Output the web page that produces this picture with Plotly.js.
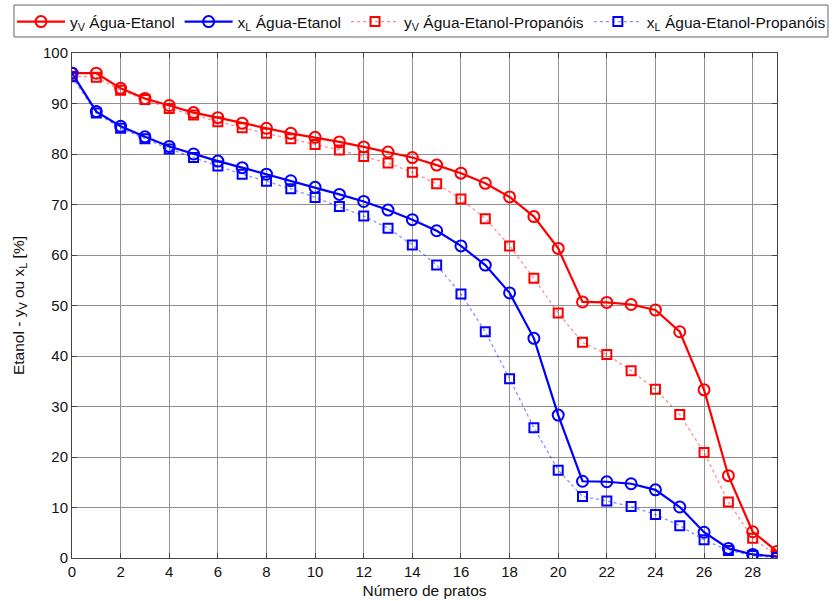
<!DOCTYPE html>
<html>
<head>
<meta charset="utf-8">
<script src="https://cdn.plot.ly/plotly-3.0.1.min.js"></script>
<style>
  html, body { margin: 0; padding: 0; background: #fff; }
  #chart { width: 833px; height: 601px; }
</style>
</head>
<body>
<div id="chart"></div>
<script>
// Número de pratos (stage number)
const pratos = [0,1,2,3,4,5,6,7,8,9,10,11,12,13,14,15,16,17,18,19,20,21,22,23,24,25,26,27,28,29];

// Etanol [%] – binary system Água-Etanol
const yV_aguaEtanol = [96.0,96.0,93.0,91.0,89.6,88.2,87.2,86.1,85.1,84.1,83.3,82.4,81.4,80.4,79.3,77.8,76.2,74.2,71.5,67.6,61.3,50.7,50.6,50.2,49.1,44.8,33.3,16.3,5.2,1.3];
const xL_aguaEtanol = [96.0,88.4,85.5,83.4,81.5,80.0,78.6,77.3,76.0,74.7,73.4,72.0,70.6,68.9,67.0,64.8,61.8,58.0,52.5,43.5,28.3,15.2,15.1,14.7,13.5,10.1,5.1,1.9,0.7,0.3];

// Etanol [%] – system Água-Etanol-Propanóis
const yV_aguaEtanolProp = [95.4,95.2,92.6,90.8,89.0,87.7,86.4,85.2,84.1,83.0,81.9,80.8,79.5,78.2,76.4,74.1,71.1,67.2,61.8,55.4,48.5,42.7,40.3,37.1,33.4,28.4,20.9,11.1,3.9,0.5];
const xL_aguaEtanolProp = [95.3,88.1,85.1,83.0,81.0,79.3,77.6,76.0,74.6,73.1,71.4,69.6,67.7,65.3,62.0,58.0,52.3,44.8,35.5,25.8,17.4,12.2,11.3,10.2,8.6,6.4,3.6,1.5,0.5,0.1];

// Axis ticks
const xTicks = [0,2,4,6,8,10,12,14,16,18,20,22,24,26,28];
const yTicks = [0,10,20,30,40,50,60,70,80,90,100];

const RED = '#ff0000';
const BLUE = '#0000ff';
const FONT = 'Liberation Sans, Arial, sans-serif';

const traces = [
  {
    x: pratos, y: yV_aguaEtanol, name: 'y<sub>V</sub> Água-Etanol',
    mode: 'lines+markers', type: 'scatter', legend: 'legend',
    line: { color: RED, width: 2.2 },
    marker: { symbol: 'circle-open', size: 11, color: RED, line: { width: 2, color: RED } }
  },
  {
    x: pratos, y: xL_aguaEtanol, name: 'x<sub>L</sub> Água-Etanol',
    mode: 'lines+markers', type: 'scatter', legend: 'legend',
    line: { color: BLUE, width: 2.2 },
    marker: { symbol: 'circle-open', size: 11, color: BLUE, line: { width: 2, color: BLUE } }
  },
  {
    x: pratos, y: yV_aguaEtanolProp, name: 'y<sub>V</sub> Água-Etanol-Propanóis',
    mode: 'lines+markers', type: 'scatter', legend: 'legend2',
    line: { color: 'rgba(255,0,0,0.45)', width: 1.3, dash: 'dot' },
    marker: { symbol: 'square-open', size: 9, color: RED, line: { width: 2, color: RED } }
  },
  {
    x: pratos, y: xL_aguaEtanolProp, name: 'x<sub>L</sub> Água-Etanol-Propanóis',
    mode: 'lines+markers', type: 'scatter', legend: 'legend2',
    line: { color: 'rgba(0,0,255,0.45)', width: 1.3, dash: 'dot' },
    marker: { symbol: 'square-open', size: 9, color: BLUE, line: { width: 2, color: BLUE } }
  }
];

const axisCommon = {
  showline: true, linecolor: '#444', linewidth: 1, mirror: 'allticks',
  ticks: 'inside', ticklen: 5, tickcolor: '#444',
  showgrid: true, gridcolor: '#8f8f8f', gridwidth: 1,
  zeroline: false,
  tickfont: { family: FONT, size: 15, color: '#111' }
};

// The legend row is split in two legend groups sharing one framed box
const legendCommon = {
  orientation: 'h', xanchor: 'left', yanchor: 'top', y: 1.095,
  borderwidth: 0, bgcolor: 'rgba(0,0,0,0)',
  itemwidth: 48, traceorder: 'normal',
  font: { family: FONT, size: 15.5, color: '#111' }
};

const layout = {
  width: 833, height: 601,
  paper_bgcolor: '#fff', plot_bgcolor: '#fff',
  margin: { l: 72, r: 56, t: 53, b: 43, autoexpand: false },
  font: { family: FONT, size: 15, color: '#111' },
  showlegend: true,
  legend: Object.assign({}, legendCommon, { x: -0.0851 }),
  legend2: Object.assign({}, legendCommon, { x: 0.3887 }),
  shapes: [{
    type: 'rect', xref: 'paper', yref: 'paper',
    x0: -0.0823, x1: 1.0723, y0: 1.0317, y1: 1.0950,
    line: { color: '#666', width: 1 }, fillcolor: '#fff', layer: 'below'
  }],
  xaxis: Object.assign({}, axisCommon, {
    range: [0, 29], tickvals: xTicks, ticktext: xTicks.map(String),
    title: { text: 'Número de pratos', standoff: 6, font: { family: FONT, size: 15.5 } }
  }),
  yaxis: Object.assign({}, axisCommon, {
    range: [0, 100], tickvals: yTicks, ticktext: yTicks.map(String),
    title: { text: 'Etanol - y<sub>V</sub> ou x<sub>L</sub> [%]', standoff: 14, font: { family: FONT, size: 15.5 } }
  })
};

Plotly.newPlot('chart', traces, layout, { displayModeBar: false, staticPlot: true });
</script>
</body>
</html>
